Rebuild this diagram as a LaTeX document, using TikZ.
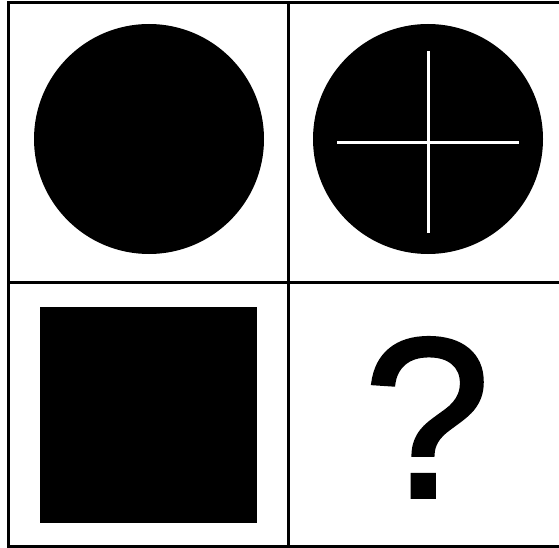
\documentclass[tikz,border=0pt]{standalone}
\usepackage{fontspec}
\setmainfont{Liberation Sans}
\newfontfamily\askfont[FakeBold=1.6]{Liberation Sans}
\usepackage{tikz}

\begin{document}
\begin{tikzpicture}[x=1pt, y=-1pt, line width=3pt]
  \useasboundingbox (0,0) rectangle (559,548);
  \draw (560,3) -- (8,3) -- (8,546) -- (560,546);
  \draw (288,3) -- (288,546);
  \draw (8,282) -- (560,282);
  \fill (149,139) circle (115);
  \fill (428,139) circle (115);
  \draw[white, line width=3pt] (337,143) -- (519,143);
  \draw[white, line width=3pt] (428,51) -- (428,233);
  \fill (40,307) rectangle (257,523);
  \node[anchor=base, inner sep=0pt, font=\askfont\fontsize{228}{228}\selectfont] (ask) at (427,497) {?};
\end{tikzpicture}
\end{document}
